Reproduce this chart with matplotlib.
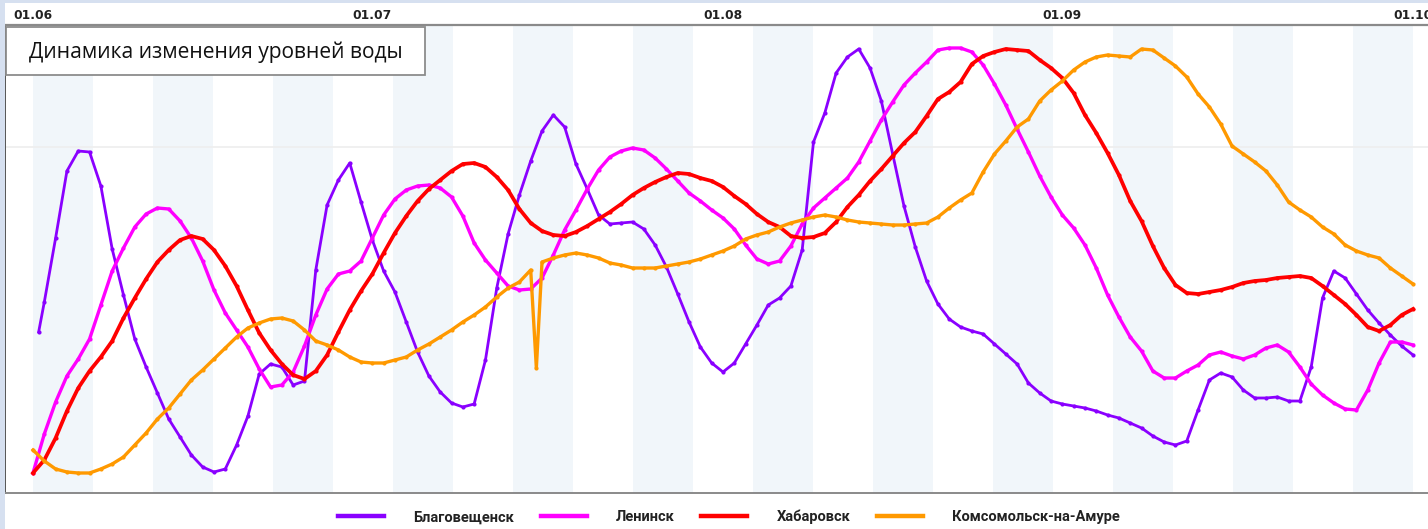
import numpy as np
import matplotlib
matplotlib.use("Agg")
import matplotlib.pyplot as plt
from matplotlib.patches import Rectangle
from matplotlib.lines import Line2D

# ---------------- data (water level, arbitrary units; x = days since 01.06) ----------------
days = list(range(123))

blag_days = [0.5] + list(range(1, 123))
blagoveshchensk = [161, 191, 255, 322, 342, 341, 307, 244, 198, 154,
                   126, 100, 74, 56, 38, 26, 21, 24, 48, 77,
                   119, 129, 126, 108, 112, 223, 288, 313, 330, 291,
                   253, 222, 201, 171, 141, 117, 101, 90, 86, 89,
                   133, 205, 259, 298, 332, 362, 378, 366, 329, 304,
                   278, 269, 270, 271, 264, 248, 226, 199, 171, 146,
                   130, 121, 130, 149, 168, 188, 195, 207, 243, 351,
                   380, 420, 436, 444, 425, 392, 339, 287, 246, 212,
                   189, 174, 166, 162, 159, 149, 139, 129, 110, 100,
                   92, 89, 87, 85, 82, 78, 75, 70, 65, 57,
                   51, 48, 52, 83, 113, 120, 116, 103, 95, 95,
                   96, 92, 92, 126, 195, 222, 215, 199, 183, 170,
                   158, 147, 138]

leninsk = [20, 59, 91, 117, 134, 154, 188, 222, 245, 266,
           279, 285, 284, 272, 255, 232, 203, 180, 163, 146,
           124, 106, 108, 121, 147, 178, 204, 219, 222, 232,
           255, 278, 294, 303, 307, 308, 305, 296, 277, 250,
           233, 220, 207, 203, 204, 215, 238, 263, 283, 304,
           323, 336, 342, 345, 343, 335, 324, 312, 300, 292,
           283, 275, 264, 248, 234, 229, 232, 247, 269, 285,
           295, 305, 315, 331, 352, 373, 391, 408, 420, 431,
           443, 445, 445, 441, 428, 409, 388, 364, 341, 317,
           296, 278, 265, 248, 225, 198, 176, 156, 142, 122,
           115, 115, 122, 128, 138, 141, 137, 134, 138, 145,
           148, 141, 126, 109, 98, 90, 84, 83, 103, 130,
           151, 151, 148]

khabarovsk = [20, 33, 55, 82, 105, 122, 136, 152, 175, 195,
              214, 231, 243, 253, 257, 254, 243, 227, 207, 183,
              160, 143, 129, 118, 114, 122, 138, 161, 183, 202,
              219, 240, 260, 277, 292, 304, 313, 322, 329, 330,
              326, 316, 303, 284, 270, 262, 258, 257, 261, 267,
              274, 281, 289, 298, 305, 311, 316, 320, 319, 315,
              312, 306, 297, 289, 279, 271, 266, 257, 255, 256,
              260, 271, 286, 298, 312, 324, 337, 350, 361, 377,
              394, 401, 411, 429, 437, 441, 444, 443, 442, 433,
              425, 415, 400, 378, 360, 340, 318, 292, 272, 247,
              225, 208, 200, 199, 201, 203, 206, 210, 212, 213,
              215, 216, 217, 215, 207, 198, 189, 178, 166, 162,
              168, 178, 184]

koms_days = list(range(45)) + [44.5] + list(range(45, 123))
komsomolsk = [43, 32, 24, 21, 20, 20, 24, 29, 36, 48,
              60, 74, 85, 99, 113, 123, 134, 145, 156, 165,
              170, 174, 175, 172, 163, 152, 148, 143, 136, 131,
              130, 130, 133, 136, 143, 149, 156, 163, 171, 178,
              186, 196, 205, 211, 223, 125, 231, 235, 238, 240,
              238, 235, 230, 228, 225, 225, 225, 227, 229, 231,
              234, 238, 242, 247, 254, 258, 261, 266, 270, 273,
              276, 278, 276, 273, 271, 270, 269, 268, 268, 269,
              270, 276, 285, 293, 300, 321, 339, 352, 366, 374,
              392, 403, 412, 423, 431, 436, 438, 437, 436, 444,
              443, 435, 427, 416, 399, 386, 369, 347, 339, 331,
              322, 308, 291, 283, 276, 266, 259, 248, 242, 238,
              235, 225, 217, 209]

series = [
    ("Благовещенск", blag_days, blagoveshchensk, "#8a00ff", 2.0),
    ("Ленинск", days, leninsk, "#ff00ff", 2.4),
    ("Хабаровск", days, khabarovsk, "#ff0000", 2.7),
    ("Комсомольск-на-Амуре", koms_days, komsomolsk, "#ff9900", 2.4),
]

month_ticks = [0, 30, 61, 91, 122]
month_labels = ["01.06", "01.07", "01.08", "01.09", "01.10"]
title = "Динамика изменения уровней воды"

# ---------------- layout ----------------
W, H = 1428, 529
fig = plt.figure(figsize=(W / 100, H / 100), dpi=100)
fig.patch.set_facecolor("white")
lav = "#d6e0f0"
fig.patches.append(Rectangle((0, 0), 5 / W, 1, transform=fig.transFigure,
                             facecolor=lav, edgecolor="none", zorder=0))
fig.patches.append(Rectangle((0, 1 - 3 / H), 1, 3 / H, transform=fig.transFigure,
                             facecolor=lav, edgecolor="none", zorder=0))

ax_left_px, ax_right_px, ax_top_px, ax_bot_px = 5, 1428, 25, 493
ax = fig.add_axes([ax_left_px / W, (H - ax_bot_px) / H,
                   (ax_right_px - ax_left_px) / W, (ax_bot_px - ax_top_px) / H])

# day 0 at pixel 33, day 122 at pixel 1413
px_per_day = (1413 - 33) / 122.0
ax.set_xlim(-(33 - ax_left_px) / px_per_day, (ax_right_px - 33) / px_per_day)
ax.set_ylim(0, ax_bot_px - ax_top_px)

# alternating background bands
edges = np.linspace(0, 122, 24)
for i in range(0, 23, 2):
    ax.axvspan(edges[i], edges[i + 1], facecolor="#f1f6fa", edgecolor="none", zorder=0)

ax.axhline(346, color="#eeeeee", lw=1.2, zorder=0.5)

for name, xs, ys, col, lw in series:
    ax.plot(xs, ys, color=col, lw=lw, marker="o", markersize=3.0,
            markeredgewidth=0, label=name, zorder=2, solid_joinstyle="round")

ax.xaxis.tick_top()
ax.set_xticks(month_ticks)
ax.set_xticklabels(month_labels, fontweight="bold", fontsize=8.8, color="#222222",
                   family="DejaVu Sans")
ax.tick_params(axis="x", length=0, pad=2.2)
ax.set_yticks([])
ax.spines["right"].set_visible(False)
ax.spines["top"].set_color("#8a8a8a")
ax.spines["top"].set_linewidth(1.6)
ax.spines["bottom"].set_color("#8a8a8a")
ax.spines["bottom"].set_linewidth(1.4)
ax.spines["left"].set_color("#555555")
ax.spines["left"].set_linewidth(1.4)
ax.set_facecolor("white")

# title box
bx0, bx1, by0, by1 = 6, 425, 27, 75
fig.patches.append(Rectangle((bx0 / W, 1 - by1 / H), (bx1 - bx0) / W, (by1 - by0) / H,
                             transform=fig.transFigure, facecolor="white",
                             edgecolor="#8c8c8c", linewidth=1.3, zorder=5))
fig.text(29 / W, 1 - 52 / H, title, fontsize=15.1, family=["Open Sans", "DejaVu Sans"],
         color="#111111", va="center", ha="left", zorder=6)

# legend
handles = [Line2D([0], [0], color=c, lw=3.2) for _, _, _, c, _ in series]
labels = [s[0] for s in series]
leg = fig.legend(handles, labels, loc="center", bbox_to_anchor=(729 / W, 1 - 517 / H),
                 ncol=4, frameon=False, handlelength=3.15, handletextpad=2.0,
                 columnspacing=1.85,
                 prop={"family": ["Liberation Sans Narrow", "Roboto", "DejaVu Sans"],
                       "weight": "bold", "size": 10.5})
for t in leg.get_texts():
    t.set_color("#222222")

fig.savefig("out.png", dpi=100, facecolor=fig.get_facecolor())
